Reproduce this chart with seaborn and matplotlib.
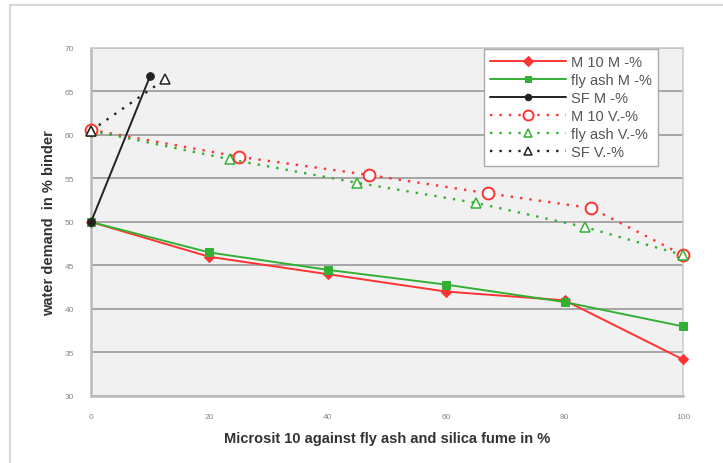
import numpy as np
import pandas as pd
import matplotlib
matplotlib.use("Agg")
import matplotlib.pyplot as plt
import seaborn as sns
from matplotlib.lines import Line2D

sns.set_theme(style="white")
plt.rcParams['font.family'] = ['Liberation Sans', 'DejaVu Sans']

# data
m10_m_x = [0, 20, 40, 60, 80, 100]
m10_m_y = [50.0, 46.0, 44.0, 42.0, 41.0, 34.2]
fa_m_x = [0, 20, 40, 60, 80, 100]
fa_m_y = [50.0, 46.5, 44.5, 42.8, 40.8, 38.0]
sf_m_x = [0, 10]
sf_m_y = [50.0, 66.8]
m10_v_x = [0, 25, 47, 67, 84.5, 100]
m10_v_y = [60.6, 57.5, 55.4, 53.3, 51.6, 46.2]
fa_v_x = [0, 23.5, 45, 65, 83.5, 100]
fa_v_y = [60.5, 57.2, 54.5, 52.2, 49.4, 46.2]
sf_v_x = [0, 12.5]
sf_v_y = [60.5, 66.4]

labels = ["M 10 M -%", "fly ash M -%", "SF M -%", "M 10 V.-%", "fly ash V.-%", "SF V.-%"]
xticks = [0, 20, 40, 60, 80, 100]
yticks = [30, 35, 40, 45, 50, 55, 60, 65, 70]

RED = "#ff3333"
GREEN = "#33b033"
BLACK = "#222222"

fig = plt.figure(figsize=(7.23, 4.64), dpi=100)
# outer chart frame (left and top edges visible)
fig.add_artist(Line2D([10 / 723, 10 / 723], [0, 1 - 6 / 464], color="#d8d8d8", lw=1.5, transform=fig.transFigure))
fig.add_artist(Line2D([10 / 723, 1], [1 - 6 / 464, 1 - 6 / 464], color="#d8d8d8", lw=1.5, transform=fig.transFigure))

ax = fig.add_axes([91 / 723, 1 - 397 / 464, (683 - 91) / 723, (397 - 49) / 464])
ax.set_facecolor("#f1f1f1")

dots = (0, (1, 3))
series = [
    (m10_m_x, m10_m_y, dict(color=RED, linestyle="-", marker="D", markersize=5.5, markerfacecolor=RED, markeredgecolor=RED, lw=1.4)),
    (fa_m_x, fa_m_y, dict(color=GREEN, linestyle="-", marker="s", markersize=5.5, markerfacecolor=GREEN, markeredgecolor=GREEN, lw=1.4)),
    (sf_m_x, sf_m_y, dict(color=BLACK, linestyle="-", marker="o", markersize=5.5, markerfacecolor=BLACK, markeredgecolor=BLACK, lw=1.4)),
    (m10_v_x, m10_v_y, dict(color=RED, linestyle=dots, marker="o", markersize=8.5, markerfacecolor="white", markeredgecolor=RED, markeredgewidth=1.4, lw=1.7)),
    (fa_v_x, fa_v_y, dict(color=GREEN, linestyle=dots, marker="^", markersize=7, markerfacecolor="white", markeredgecolor=GREEN, markeredgewidth=1.1, lw=1.7)),
    (sf_v_x, sf_v_y, dict(color=BLACK, linestyle=dots, marker="^", markersize=7, markerfacecolor="white", markeredgecolor=BLACK, markeredgewidth=1.1, lw=1.7)),
]

for (xs, ys, kw), lab in zip(series, labels):
    df = pd.DataFrame({"x": xs, "y": ys})
    sns.lineplot(data=df, x="x", y="y", ax=ax, label=lab, **kw)
for ln in ax.lines:
    ln.set_clip_on(False)
    ln.set_zorder(3)

ax.set_xlim(0, 100)
ax.set_ylim(30, 70)
ax.set_xticks(xticks)
ax.set_yticks(yticks)
ax.yaxis.grid(True, color="#a0a0a0", lw=1.3)
ax.xaxis.grid(False)
ax.set_axisbelow(True)
ax.tick_params(axis="both", labelsize=6, labelcolor="#888888", length=2, color="#999999", pad=10)
for side in ["left", "bottom"]:
    ax.spines[side].set_color("#bbbbbb")
    ax.spines[side].set_linewidth(1.8)
for side in ["top", "right"]:
    ax.spines[side].set_color("#cccccc")
    ax.spines[side].set_linewidth(1.2)

ax.set_xlabel("Microsit 10 against fly ash and silica fume in %", fontsize=10.5, fontweight="bold", color="#333333", labelpad=8)
ax.set_ylabel("water demand  in % binder", fontsize=10.5, fontweight="bold", color="#333333", labelpad=6)

leg = ax.legend(loc="upper right", bbox_to_anchor=(0.958, 0.998), borderaxespad=0, fontsize=10.5, handlelength=5.2,
                frameon=True, fancybox=False, edgecolor="#aaaaaa", facecolor="white", framealpha=1,
                borderpad=0.45, labelspacing=0.27, handletextpad=0.3, markerscale=0.85)
leg.set_zorder(5)
for t in leg.get_texts():
    t.set_color("#555555")

fig.savefig("out.png", dpi=100)
